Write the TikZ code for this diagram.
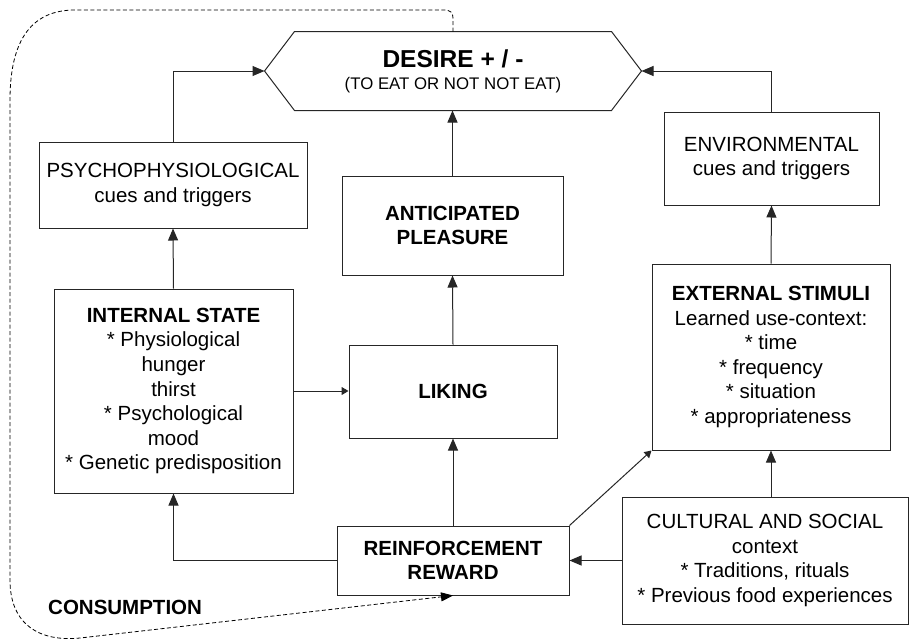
\documentclass[tikz,border=0pt]{standalone}
\usepackage{fontspec}
\setmainfont{Liberation Sans}
\usetikzlibrary{arrows.meta, calc, positioning}

\begin{document}
\begin{tikzpicture}[x=1pt, y=-1pt,
    hop/.style={draw=black!85, line width=1pt, align=center, inner sep=0pt, font=\fontsize{20.5}{24.6}\selectfont},
    muiten/.style={draw=black!85, line width=1pt, -{Triangle[length=12pt,width=10pt]}},
    muitennho/.style={draw=black!85, line width=1pt, -{Triangle[length=7pt,width=8pt]}}]

            % Khung trang
            \useasboundingbox (0,0) rectangle (913,641);

            % Hình lục giác DESIRE
            \node[hop, draw=none, minimum width=376pt, minimum height=78pt, font=\fontsize{16.8}{22}\selectfont] (desire) at (453,71) {{\fontsize{24.5}{22}\selectfont\bfseries DESIRE + / -}\\(TO EAT OR NOT NOT EAT)};
            \draw[draw=black!85, line width=1pt] (desire.west) -- ($(desire.north west)+(30,0)$) -- ($(desire.north east)+(-30,0)$) -- (desire.east) -- ($(desire.south east)+(-30,0)$) -- ($(desire.south west)+(30,0)$) -- cycle;

            % Các hộp
            \node[hop, minimum width=268pt, minimum height=86pt] (psycho) at (173,185) {PSYCHOPHYSIOLOGICAL\\cues and triggers};
            \node[hop, minimum width=221pt, minimum height=99pt] (antic) at (452.5,225.5) {\textbf{ANTICIPATED}\\\textbf{PLEASURE}};
            \node[hop, minimum width=215pt, minimum height=93pt] (env) at (771.5,158.5) {ENVIRONMENTAL\\cues and triggers};
            \node[hop, minimum width=239pt, minimum height=204pt] (internal) at (173.5,391) {\textbf{INTERNAL STATE}\\* Physiological\\hunger\\thirst\\* Psychological\\mood\\* Genetic predisposition};
            \node[hop, minimum width=208pt, minimum height=93pt] (liking) at (453,391.5) {\textbf{LIKING}};
            \node[hop, minimum width=238pt, minimum height=186pt] (external) at (771,357) {\textbf{EXTERNAL STIMULI}\\Learned use-context:\\* time\\* frequency\\* situation\\* appropriateness};
            \node[hop, minimum width=232pt, minimum height=69pt] (reinf) at (453,560.5) {\textbf{REINFORCEMENT}\\\textbf{REWARD}};
            \node[hop, minimum width=286pt, minimum height=127pt] (cultural) at (765,560.5) {CULTURAL AND SOCIAL\\context\\* Traditions, rituals\\* Previous food experiences};

            % Nhãn tiêu thụ
            \node[font=\fontsize{20.5}{24.6}\selectfont\bfseries, anchor=west, inner sep=0pt] (consum) at (48,607.5) {CONSUMPTION};

            % Các mũi tên
            \draw[muiten] (psycho.north) |- (desire.west);
            \draw[muiten] (env.north) |- (desire.east);
            \draw[muiten] (antic.north) -- (antic.north |- desire.south);
            \draw[muiten] (internal.north) -- (psycho.south);
            \draw[muiten] (liking.north) -- (antic.south);
            \draw[muitennho] (internal.east) -- (internal.east -| liking.west);
            \draw[muiten] (external.north) -- (env.south);
            \draw[muiten] (reinf.north) -- (liking.south);
            \draw[muiten] (reinf.west) -| (internal.south);
            \draw[muitennho] (reinf.north east) -- (external.south west);
            \draw[muiten] (cultural.north -| external.south) -- (external.south);
            \draw[muiten] (cultural.west) -- (reinf.east);

            % Vòng nét đứt
            \draw[draw=black, line width=0.8pt, dash pattern=on 4pt off 2.5pt, -{Triangle[length=12pt,width=9pt]}] (desire.north) -- (453,20) .. controls (453,12) and (451,10) .. (443,10) -- (75,10) .. controls (28,10) and (10,45) .. (10,100) -- (10,580) .. controls (10,625) and (40,642) .. (80,638) -- (reinf.south);

\end{tikzpicture}
\end{document}
